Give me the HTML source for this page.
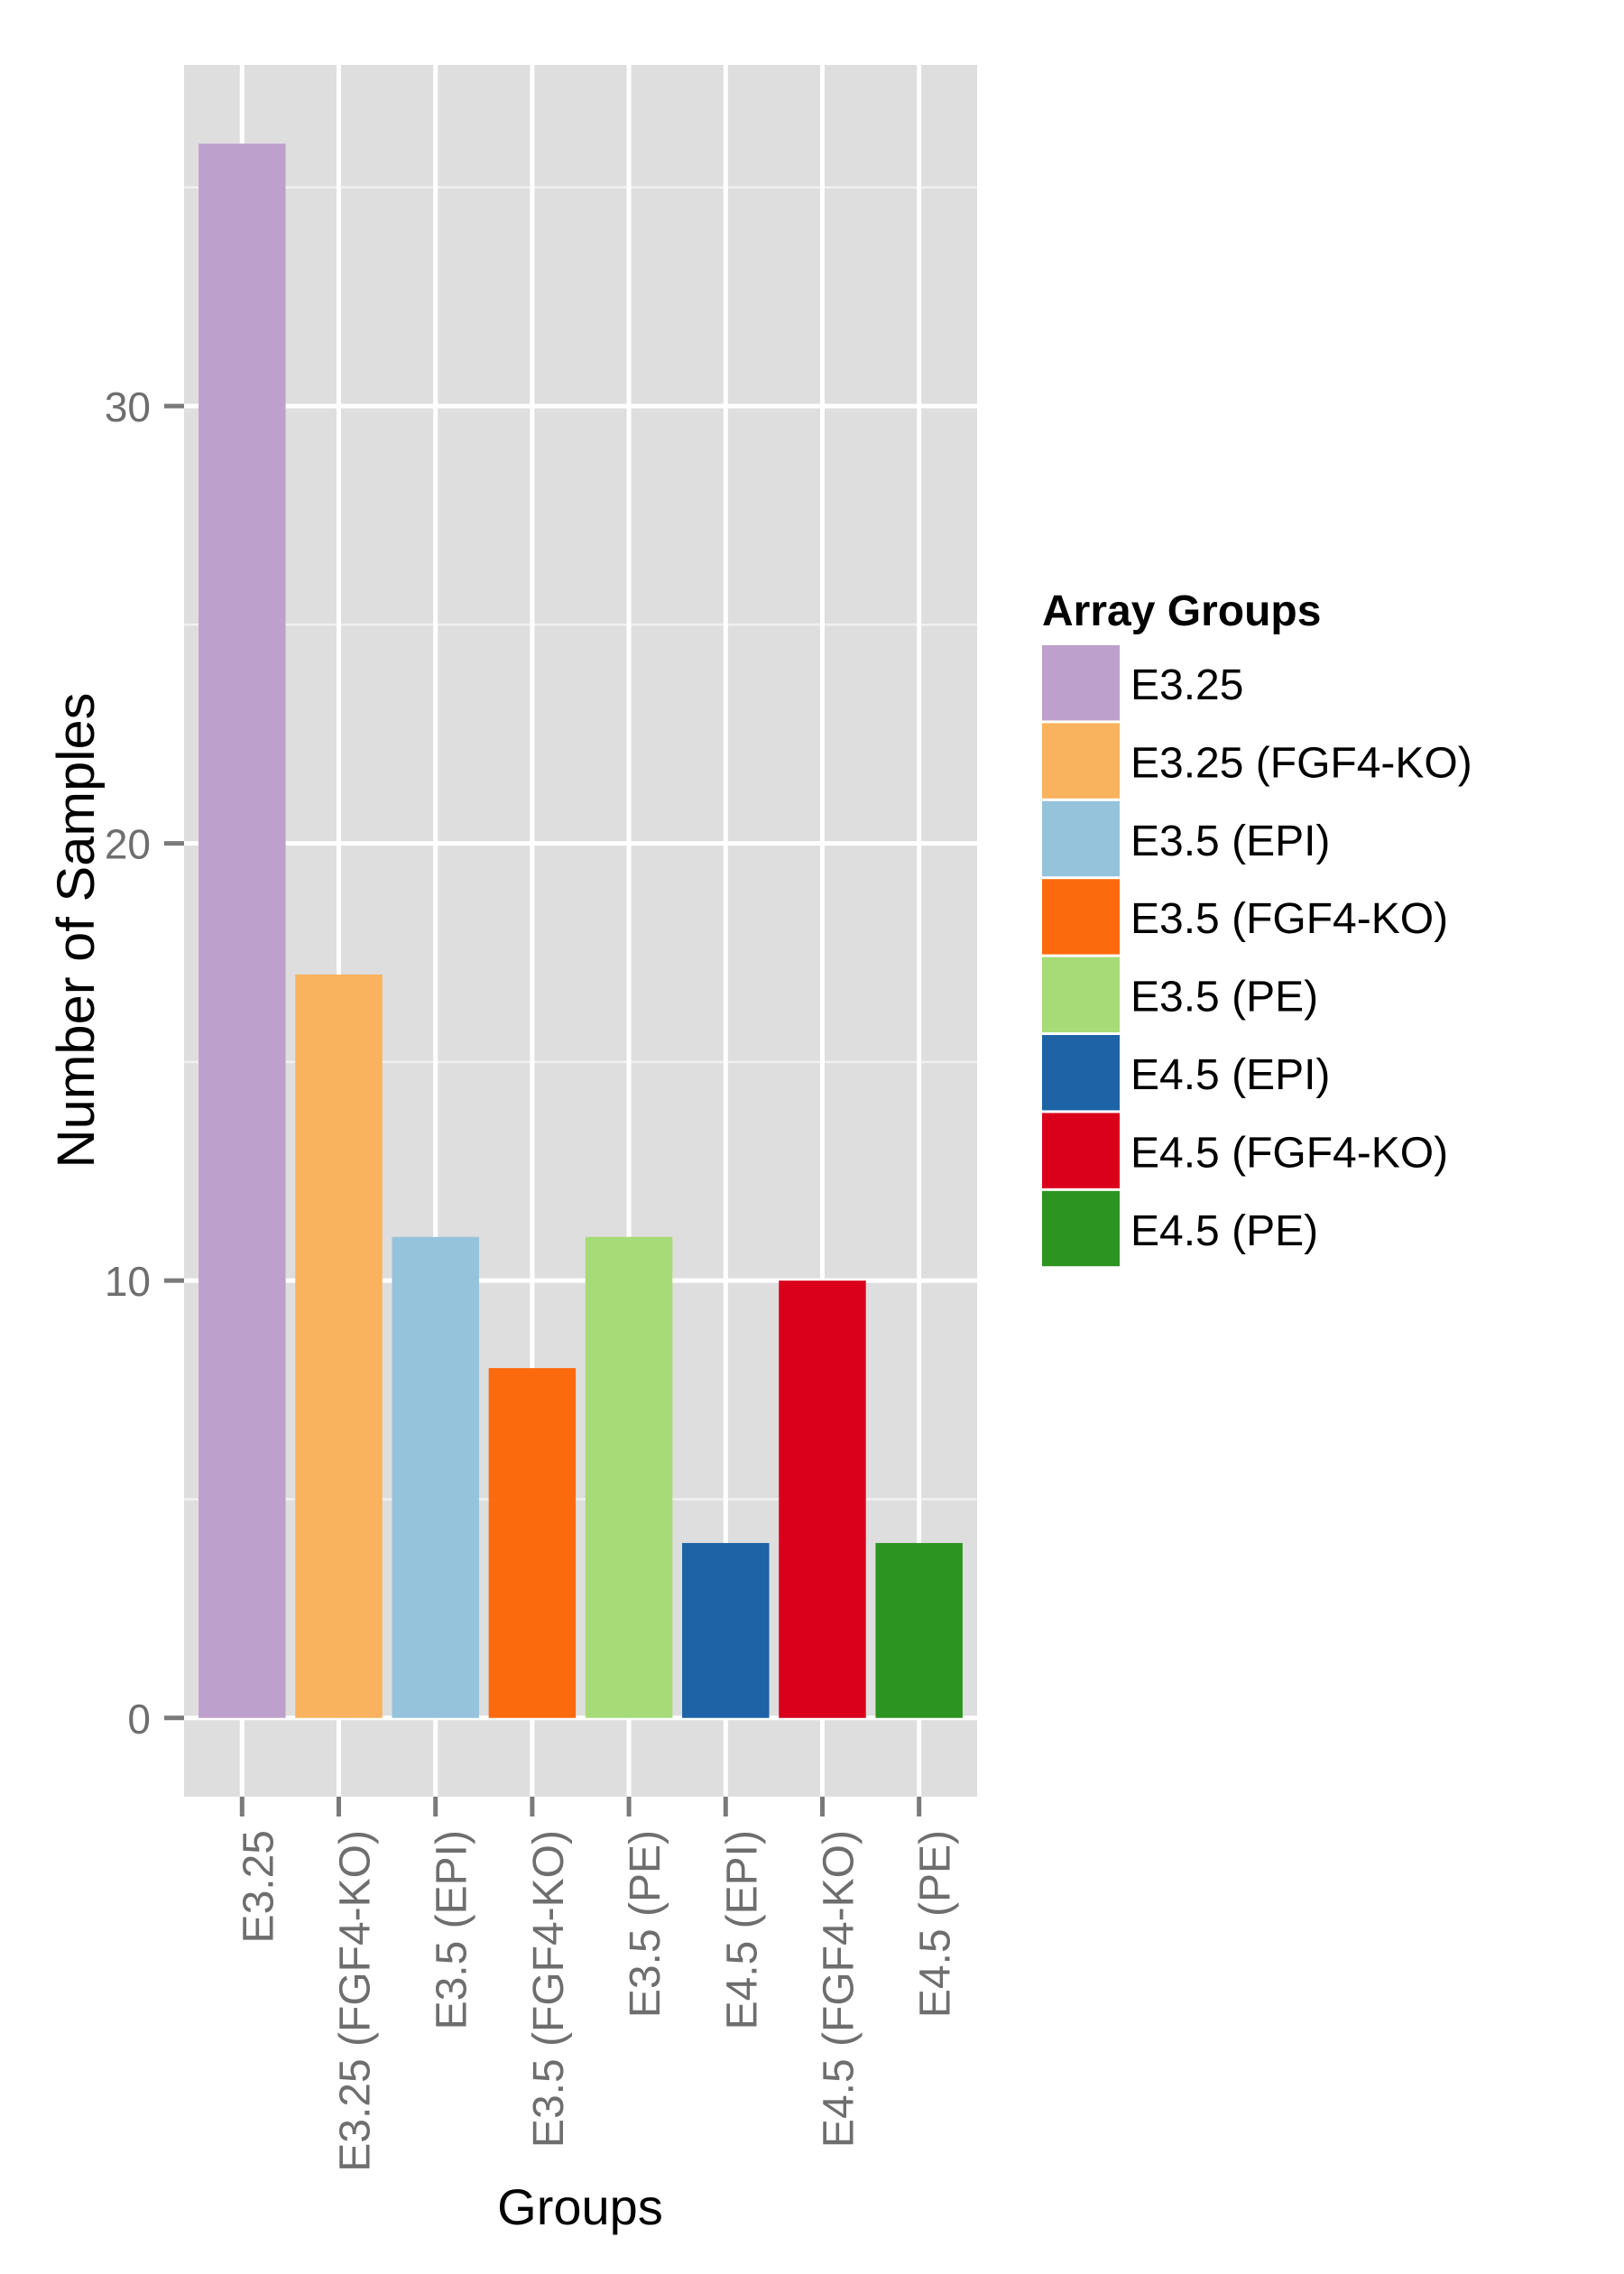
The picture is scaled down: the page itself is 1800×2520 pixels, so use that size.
<!DOCTYPE html>
<html><head><meta charset="utf-8"><style>
html,body{margin:0;padding:0;background:#fff;}
svg{display:block;font-family:"Liberation Sans",Arial,sans-serif;}
</style></head><body>
<svg id="chart" width="1800" height="2520" viewBox="0 0 1800 2520" xmlns="http://www.w3.org/2000/svg">
<rect x="204" y="72" width="879" height="1919" fill="#dedede"/>
<g id="grid"></g>
<g id="bars"></g>
<g id="axes"></g>
<text x="643" y="2465" font-size="56" text-anchor="middle" fill="#000">Groups</text>
<text transform="translate(104,1031) rotate(-90)" font-size="58" text-anchor="middle" textLength="527" lengthAdjust="spacingAndGlyphs" fill="#000">Number of Samples</text>
<text x="1155" y="693" font-size="48" font-weight="bold" fill="#000">Array Groups</text>
<g id="legend"></g>
</svg>
<script>
const categories = ["E3.25","E3.25 (FGF4-KO)","E3.5 (EPI)","E3.5 (FGF4-KO)","E3.5 (PE)","E4.5 (EPI)","E4.5 (FGF4-KO)","E4.5 (PE)"];
const counts = [36,17,11,8,11,4,10,4];
const colors = ["#bea0cc","#f9b25e","#96c3dc","#fc6a0e","#a6db78","#1d63a6","#da001c","#2c9421"];
const yTicks = [0,10,20,30];
const yMinor = [5,15,25,35];

const NS = "http://www.w3.org/2000/svg";
const panelL = 204, panelR = 1083, panelT = 72, panelB = 1991;
const yMax = Math.max(...counts);
const yLo = -yMax*0.05, yHi = yMax*1.05;
function y(v){ return panelB - (v - yLo)/(yHi - yLo)*(panelB - panelT); }
const step = (panelR - panelL)/(categories.length + 0.2);
function x(i){ return panelL + step*(0.6 + i); }
function mk(tag, attrs, parent){ const e=document.createElementNS(NS,tag); for(const k in attrs) e.setAttribute(k,attrs[k]); parent.appendChild(e); return e; }

const grid = document.getElementById('grid');
yMinor.forEach(v=>{
  const l = mk('line',{x1:panelL,x2:panelR,y1:y(v),y2:y(v),stroke:'#f0f0f0','stroke-width':2.5},grid);
  
  
});
yTicks.forEach(v=>{
  const l = mk('line',{x1:panelL,x2:panelR,y1:y(v),y2:y(v),stroke:'#fff','stroke-width':5},grid);
  
  
});
categories.forEach((c,i)=>{
  const l = mk('line',{x1:x(i),x2:x(i),y1:panelT,y2:panelB,stroke:'#fff','stroke-width':5},grid);
  
  
});

const bars = document.getElementById('bars');
counts.forEach((v,i)=>{
  const w = step*0.9;
  const r = mk('rect',{x:x(i)-w/2,y:y(v),width:w,height:y(0)-y(v),fill:colors[i]},bars);
  
  
});

const axes = document.getElementById('axes');
yTicks.forEach(v=>{
  const t = mk('line',{x1:182,x2:204,y1:y(v),y2:y(v),stroke:'#7a7a7a','stroke-width':5},axes);
  
  
  const lb = mk('text',{x:167,y:y(v)+17,'font-size':46,'text-anchor':'end',fill:'#6e6e6e'},axes);
  lb.textContent = v;
  
  
});
categories.forEach((c,i)=>{
  const t = mk('line',{x1:x(i),x2:x(i),y1:panelB,y2:panelB+22,stroke:'#7a7a7a','stroke-width':5},axes);
  
  
  const lb = mk('text',{transform:`translate(${x(i)+34},2028) rotate(-90)`,'font-size':48,'text-anchor':'end',fill:'#6e6e6e'},axes);
  lb.textContent = c;
  
  
});

const legend = document.getElementById('legend');
const keyH = 86.4;
categories.forEach((c,i)=>{
  const top = 715 + i*keyH;
  const k = mk('rect',{x:1155,y:top,width:86,height:keyH-3,fill:colors[i]},legend);
  
  
  const lb = mk('text',{x:1253,y:top+60,'font-size':48,fill:'#000'},legend);
  lb.textContent = c;
  
  
});
</script>
</body></html>
